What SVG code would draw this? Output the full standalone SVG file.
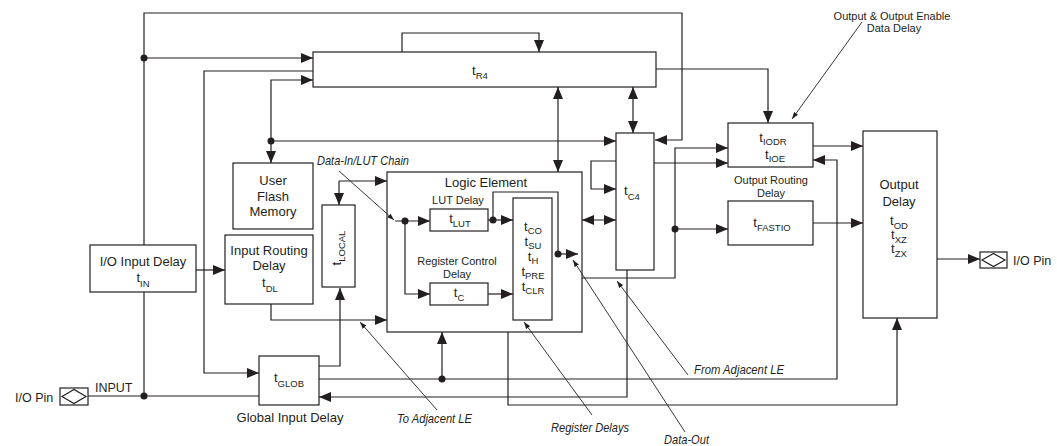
<svg xmlns="http://www.w3.org/2000/svg" width="1057" height="446" viewBox="0 0 1057 446">
<style>
.bx{fill:#fff;stroke:#231f20;stroke-width:1.2}
.ln{fill:none;stroke:#231f20;stroke-width:1.2}
.ar{marker-end:url(#ah)}
.da{marker-start:url(#ah);marker-end:url(#ah)}
.ld{fill:none;stroke:#231f20;stroke-width:0.9;marker-end:url(#sa)}
.dot{fill:#231f20}
text{font-family:"Liberation Sans",Arial,Helvetica,sans-serif;fill:#231f20}
.f13{font-size:13px}
.f11{font-size:11px}
.f12{font-size:12.5px}
.sub{font-size:9.5px}
.it{font-style:italic;font-size:13px}
</style>
<defs>
<marker id="ah" viewBox="0 0 12 10" refX="12" refY="5" markerWidth="12" markerHeight="10" markerUnits="userSpaceOnUse" orient="auto-start-reverse"><path d="M0,0 L12,5 L0,10 z" fill="#231f20"/></marker>
<marker id="sa" viewBox="0 0 7 5" refX="7" refY="2.5" markerWidth="7" markerHeight="5" markerUnits="userSpaceOnUse" orient="auto"><path d="M0,0 L7,2.5 L0,5 z" fill="#231f20"/></marker>
</defs>
<rect width="1057" height="446" fill="#fff"/>

<g id="tR4">
<rect class="bx" x="313" y="52" width="343" height="35"/>
<text class="f13" x="480" y="75" text-anchor="middle">t<tspan class="sub" dy="4">R4</tspan></text>
</g>
<g id="ufm">
<rect class="bx" x="233" y="163" width="80" height="66"/>
<text class="f13" x="273" y="185" text-anchor="middle">User</text>
<text class="f13" x="273" y="201" text-anchor="middle">Flash</text>
<text class="f13" x="273" y="216" text-anchor="middle">Memory</text>
</g>
<g id="ioin">
<rect class="bx" x="90" y="245" width="106" height="47"/>
<text class="f13" x="143" y="266" text-anchor="middle">I/O Input Delay</text>
<text class="f13" x="143" y="282" text-anchor="middle">t<tspan class="sub" dy="5">IN</tspan></text>
</g>
<g id="ird">
<rect class="bx" x="225" y="235" width="88" height="69"/>
<text class="f13" x="269" y="255" text-anchor="middle">Input Routing</text>
<text class="f13" x="269" y="270" text-anchor="middle">Delay</text>
<text class="f13" x="270" y="287" text-anchor="middle">t<tspan class="sub" dy="5">DL</tspan></text>
</g>
<g id="tlocal">
<rect class="bx" x="322" y="205" width="33" height="82"/>
<text class="f13" transform="translate(341,248) rotate(-90)" text-anchor="middle">t<tspan class="sub" dy="4">LOCAL</tspan></text>
</g>
<g id="tglob">
<rect class="bx" x="259" y="356" width="60" height="49"/>
<text class="f13" x="289" y="382" text-anchor="middle">t<tspan class="sub" dy="5">GLOB</tspan></text>
<text class="f13" x="290" y="422" text-anchor="middle">Global Input Delay</text>
</g>
<g id="iopin-in">
<rect class="bx" x="60" y="388" width="28" height="17"/>
<path class="ln" d="M62,396.5 L74,389.5 L86,396.5 L74,403.5 Z"/>
<text class="f12" x="15" y="402">I/O Pin</text>
<text class="f12" x="95" y="392">INPUT</text>
</g>
<g id="le">
<rect class="bx" x="387" y="172" width="195" height="160"/>
<text class="f13" x="486" y="187" text-anchor="middle">Logic Element</text>
<text class="f11" x="458" y="204" text-anchor="middle">LUT Delay</text>
<text class="f11" x="457" y="265" text-anchor="middle">Register Control</text>
<text class="f11" x="457" y="278" text-anchor="middle">Delay</text>
</g>
<g id="tlut">
<rect class="bx" x="430" y="209" width="58" height="22"/>
<text class="f13" x="460" y="223" text-anchor="middle">t<tspan class="sub" dy="4">LUT</tspan></text>
</g>
<g id="tc">
<rect class="bx" x="430" y="283" width="58" height="22"/>
<text class="f13" x="459" y="297" text-anchor="middle">t<tspan class="sub" dy="4">C</tspan></text>
</g>
<g id="reg">
<rect class="bx" x="513" y="198" width="39" height="122"/>
<text class="f13" x="533" y="231" text-anchor="middle">t<tspan class="sub" dy="3">CO</tspan></text>
<text class="f13" x="533" y="246" text-anchor="middle">t<tspan class="sub" dy="3">SU</tspan></text>
<text class="f13" x="533" y="261" text-anchor="middle">t<tspan class="sub" dy="3">H</tspan></text>
<text class="f13" x="533" y="276" text-anchor="middle">t<tspan class="sub" dy="3">PRE</tspan></text>
<text class="f13" x="533" y="291" text-anchor="middle">t<tspan class="sub" dy="3">CLR</tspan></text>
</g>
<g id="tc4">
<rect class="bx" x="616" y="133" width="38" height="137"/>
<text class="f13" x="632" y="195" text-anchor="middle">t<tspan class="sub" dy="5">C4</tspan></text>
</g>
<g id="tiodr">
<rect class="bx" x="728" y="123" width="85" height="44"/>
<text class="f13" x="773" y="142" text-anchor="middle">t<tspan class="sub" dy="3">IODR</tspan></text>
<text class="f13" x="775" y="159" text-anchor="middle">t<tspan class="sub" dy="3">IOE</tspan></text>
<text class="f11" x="771" y="184" text-anchor="middle">Output Routing</text>
<text class="f11" x="771" y="197" text-anchor="middle">Delay</text>
<text class="f11" x="892" y="20" text-anchor="middle">Output &amp; Output Enable</text>
<text class="f11" x="894" y="32" text-anchor="middle">Data Delay</text>
</g>
<g id="tfastio">
<rect class="bx" x="728" y="201" width="85" height="44"/>
<text class="f13" x="772" y="227" text-anchor="middle">t<tspan class="sub" dy="4">FASTIO</tspan></text>
</g>
<g id="outdelay">
<rect class="bx" x="863" y="131" width="74" height="187"/>
<text class="f13" x="899" y="189" text-anchor="middle">Output</text>
<text class="f13" x="899" y="206" text-anchor="middle">Delay</text>
<text class="f13" x="899" y="225" text-anchor="middle">t<tspan class="sub" dy="4">OD</tspan></text>
<text class="f13" x="899" y="239" text-anchor="middle">t<tspan class="sub" dy="4">XZ</tspan></text>
<text class="f13" x="899" y="253" text-anchor="middle">t<tspan class="sub" dy="4">ZX</tspan></text>
</g>
<g id="iopin-out">
<rect class="bx" x="980" y="252" width="27" height="16"/>
<path class="ln" d="M982,260 L993.5,253.5 L1005,260 L993.5,266.5 Z"/>
<text class="f12" x="1013" y="265">I/O Pin</text>
</g>
<g id="labels">
<text class="it" x="317" y="165" textLength="92" lengthAdjust="spacingAndGlyphs">Data-In/LUT Chain</text>
<text class="it" x="397" y="423" textLength="75" lengthAdjust="spacingAndGlyphs">To Adjacent LE</text>
<text class="it" x="551" y="432" textLength="78" lengthAdjust="spacingAndGlyphs">Register Delays</text>
<text class="it" x="664" y="444" textLength="45" lengthAdjust="spacingAndGlyphs">Data-Out</text>
<text class="it" x="694" y="374" textLength="90" lengthAdjust="spacingAndGlyphs">From Adjacent LE</text>
</g>

<g id="connectors">
<path class="ln ar" d="M144,245 V13 H682 V140 H655"/>
<path class="ln ar" d="M144,58 H313"/>
<path class="ln ar" d="M313,71 H204 V373 H259"/>
<path class="ln ar" d="M271,141 V80 H313"/>
<path class="ln ar" d="M271,141 V163"/>
<path class="ln ar" d="M271,141 H616"/>
<path class="ln ar" d="M402,52 V33 H539 V52"/>
<path class="ln da" d="M558,87 V172"/>
<path class="ln da" d="M633,87 V133"/>
<path class="ln ar" d="M656,69 H768 V123"/>
<path class="ln ar" d="M616,161 H591 V189 H616"/>
<path class="ln da" d="M582,220 H616"/>
<path class="ln ar" d="M654,163 H728"/>
<path class="ln ar" d="M582,278 H675 V148 H728"/>
<path class="ln ar" d="M675,229 H728"/>
<path class="ln ar" d="M813,146 H863"/>
<path class="ln ar" d="M813,223 H863"/>
<path class="ln ar" d="M937,259 H980"/>
<path class="ln ar" d="M627,270 V397 H319"/>
<path class="ln ar" d="M319,379 H837 V160 H813"/>
<path class="ln ar" d="M442,379 V332"/>
<path class="ln ar" d="M508,332 V405 H897 V318"/>
<path class="ln" d="M88,396 H259"/>
<path class="ln" d="M144,292 V396"/>
<path class="ln ar" d="M196,270 H225"/>
<path class="ln ar" d="M319,366 H340 V288"/>
<path class="ln ar" d="M271,304 V320 H387"/>
<path class="ln ar" d="M339,181 V205"/>
<path class="ln ar" d="M339,181 H387"/>
<path class="ln ar" d="M395,221 H430"/>
<path class="ln ar" d="M405,221 V294 H430"/>
<path class="ln ar" d="M488,294 H513"/>
<path class="ln ar" d="M488,220 H513"/>
<path class="ln" d="M493,220 V192 H558 V254"/>
<path class="ln ar" d="M558,254 H578"/>
<circle class="dot" cx="144" cy="58" r="3.5"/>
<circle class="dot" cx="271" cy="141" r="3.5"/>
<circle class="dot" cx="675" cy="229" r="3.5"/>
<circle class="dot" cx="442" cy="379" r="3.5"/>
<circle class="dot" cx="144" cy="396" r="3.5"/>
<circle class="dot" cx="405" cy="221" r="3.5"/>
<circle class="dot" cx="493" cy="220" r="3.5"/>
<circle class="dot" cx="558" cy="254" r="3.5"/>
<path class="ld" d="M339,171 L394,220"/>
<path class="ld" d="M437,410 L360,322"/>
<path class="ld" d="M592,415 L524,322"/>
<path class="ld" d="M685,432 L573,260"/>
<path class="ld" d="M688,375 L617,281"/>
<path class="ld" d="M862,22 L792,119"/>
</g>
</svg>
